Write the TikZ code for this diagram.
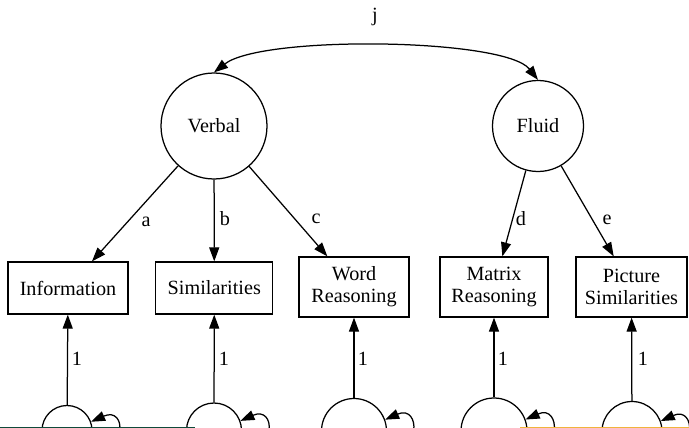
\documentclass[tikz,border=0pt]{standalone}
\usepackage{fontspec}
\setmainfont{Liberation Serif}
\usetikzlibrary{arrows.meta}
\begin{document}
\begin{tikzpicture}[x=1pt,y=-1pt,line width=1.25pt,
  every node/.style={font=\fontsize{20.2}{22}\selectfont, inner sep=0pt},
  latent/.style={draw, circle, minimum size=#1},
  obsbox/.style={draw, rectangle, align=center, minimum width=#1},
  tip/.style={-{Triangle[length=14pt,width=10pt]}},
  bothtips/.style={{Triangle[length=14pt,width=10pt]}-{Triangle[length=14pt,width=10pt]}}]
\useasboundingbox (0,0) rectangle (689,428);
\clip (0,0) rectangle (689,428);

% latent factors
\node[latent=106pt] (V) at (214,126) {Verbal};
\node[latent=91pt]  (F) at (538,126) {Fluid};

% indicators
\node[obsbox=120pt, minimum height=52pt] (I)  at (68,288)    {Information};
\node[obsbox=117pt, minimum height=52pt] (S)  at (214.3,288) {Similarities};
\node[obsbox=110pt, minimum height=60pt] (W)  at (354,287)   {Word\\Reasoning};
\node[obsbox=108pt, minimum height=60pt] (M)  at (494,287)   {Matrix\\Reasoning};
\node[obsbox=111pt, minimum height=60pt] (P)  at (631.5,287) {Picture\\Similarities};

% residual terms
\node[latent=50pt] (e1) at (67,430.5)  {};
\node[latent=55pt] (e2) at (214,430.5) {};
\node[latent=65pt] (e3) at (354,431)   {};
\node[latent=66pt] (e4) at (494,431)   {};
\node[latent=60pt] (e5) at (632,431.5) {};

% factor covariance
\draw[bothtips] (V.north) .. controls (262,35) and (505,38) .. (F.north);
\node (lj) at (375,17) {j};

% loadings
\draw[tip] (V) -- (I);
\draw[tip] (V) -- (S);
\draw[tip] (V) -- (W);
\draw[tip] (F) -- (M);
\draw[tip] (F) -- (P);
\node (la) at (146,222) {a};
\node (lb) at (225,219) {b};
\node (lc) at (316,219) {c};
\node (ld) at (521,219) {d};
\node (le) at (607,220) {e};

% residual paths
\draw[tip] (e1) -- (I);
\draw[tip] (e2) -- (S);
\draw[tip] (e3) -- (W);
\draw[tip] (e4) -- (M);
\draw[tip] (e5) -- (P);
\node (l1) at (77,359)  {1};
\node (l2) at (224,359) {1};
\node (l3) at (363,359) {1};
\node (l4) at (503,359) {1};
\node (l5) at (643,359) {1};

% residual variances
\foreach \n in {e1,e2,e3,e4,e5}
  \draw[tip] (\n.-20) .. controls +(36,16) and +(36,-16) .. (\n.20);

% coloured strips along the lower edge
\fill[fill={rgb,255:red,14;green,74;blue,58}] (0,426.5) rectangle (195,428);
\fill[fill={rgb,255:red,240;green,180;blue,60}] (520,426.5) rectangle (689,428);
\end{tikzpicture}
\end{document}
